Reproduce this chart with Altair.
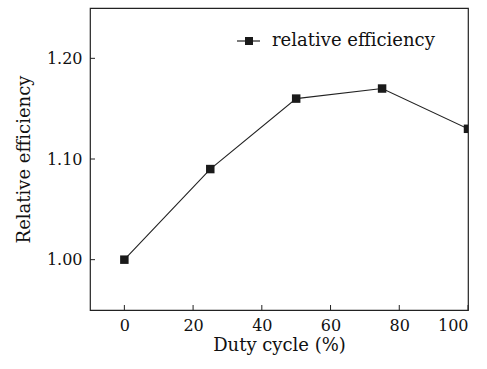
import altair as alt
import pandas as pd

duty = [0, 25, 50, 75, 100]
eff = [1.00, 1.09, 1.16, 1.17, 1.13]
x_ticks = [0, 20, 40, 60, 80, 100]
y_ticks = [1.00, 1.10, 1.20]
series_name = "relative efficiency"

W, H = 378, 302
FONT = "DejaVu Serif"

df = pd.DataFrame({"duty": duty, "eff": eff})
xt = pd.DataFrame({"t": x_ticks})
yt = pd.DataFrame({"t": y_ticks})

xscale = alt.Scale(domain=[-10, 100], nice=False, zero=False)
yscale = alt.Scale(domain=[0.95, 1.25], nice=False, zero=False)

base = alt.Chart(df)

line = base.mark_line(color="#222222", strokeWidth=1.1, clip=True).encode(
    x=alt.X("duty:Q", scale=xscale,
            axis=alt.Axis(values=x_ticks, title="Duty cycle (%)", ticks=False,
                          domain=False, grid=False, labelPadding=7,
                          titlePadding=3)),
    y=alt.Y("eff:Q", scale=yscale,
            axis=alt.Axis(values=y_ticks, format=".2f", title="Relative efficiency",
                          ticks=False, domain=False, grid=False, labelPadding=8,
                          titlePadding=13)),
)
pts = base.mark_square(color="#1a1a1a", size=72, opacity=1, clip=True).encode(
    x=alt.X("duty:Q", scale=xscale), y=alt.Y("eff:Q", scale=yscale)
)

xtick = alt.Chart(xt).mark_rule(color="#222222", strokeWidth=1).encode(
    x=alt.X("t:Q", scale=xscale), y=alt.value(H), y2=alt.value(H - 5)
)
ytick = alt.Chart(yt).mark_rule(color="#222222", strokeWidth=1).encode(
    y=alt.Y("t:Q", scale=yscale), x=alt.value(0), x2=alt.value(5)
)

leg = pd.DataFrame({"name": [series_name]})
leg_line = alt.Chart(leg).mark_rule(color="#222222", strokeWidth=1.2).encode(
    x=alt.value(147), x2=alt.value(170), y=alt.value(33)
)
leg_pt = alt.Chart(leg).mark_square(color="#1a1a1a", size=64, opacity=1).encode(
    x=alt.value(159), y=alt.value(33)
)
leg_text = alt.Chart(leg).mark_text(
    align="left", baseline="middle", font=FONT, fontSize=18, color="#111111"
).encode(x=alt.value(182), y=alt.value(33), text="name:N")

chart = (
    alt.layer(line, pts, xtick, ytick, leg_line, leg_pt, leg_text)
    .properties(width=W, height=H, autosize=alt.AutoSizeParams(type="none"),
                padding={"left": 90, "top": 8, "right": 19, "bottom": 59},
                background="white")
    .configure_view(stroke="#222222", strokeWidth=1.2)
    .configure_axis(labelFont=FONT, titleFont=FONT, labelFontSize=16,
                    titleFontSize=18, labelColor="#111111", titleColor="#111111",
                    titleFontWeight="normal")
)

chart.save("out.html", embed_options={"renderer": "svg", "actions": False})
